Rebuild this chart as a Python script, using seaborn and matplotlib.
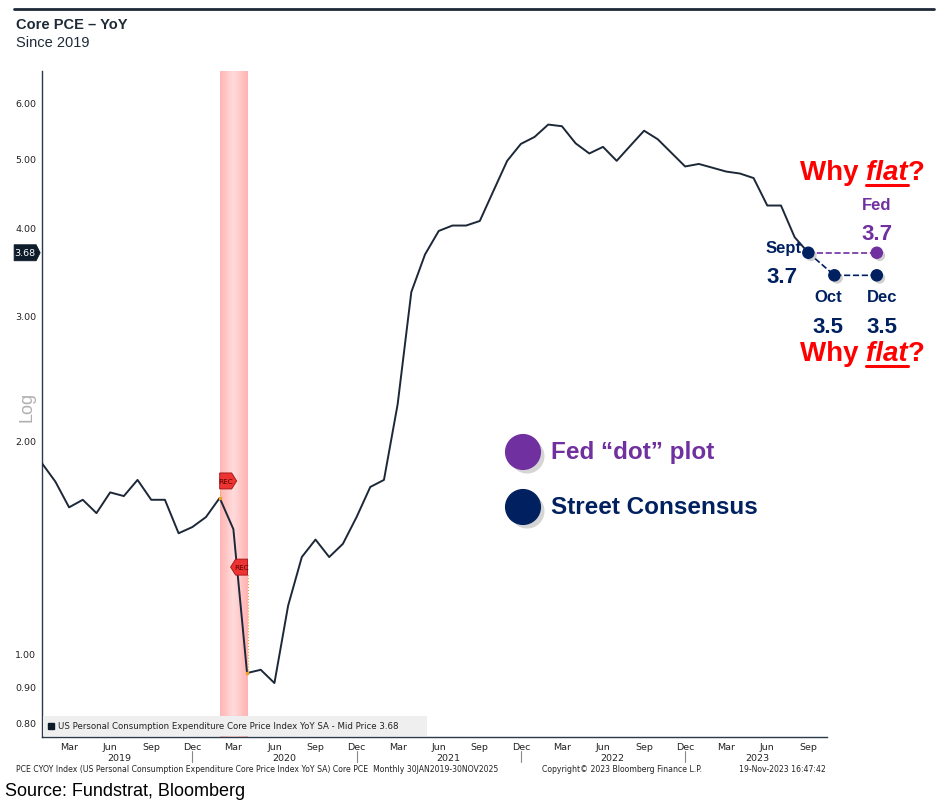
import numpy as np
import pandas as pd
import matplotlib
matplotlib.use('Agg')
import matplotlib.pyplot as plt
import matplotlib.patheffects as pe
import matplotlib.transforms as mtrans
from matplotlib.lines import Line2D
from matplotlib.patches import Rectangle, Polygon
from matplotlib.offsetbox import DrawingArea, AnnotationBbox
from matplotlib.text import Text
import seaborn as sns

# ~ data: Core PCE YoY, monthly Jan 2019 - Sep 2023
months = pd.date_range('2019-01-01', '2023-09-01', freq='MS')
core_pce = [1.86, 1.75, 1.61, 1.65, 1.58, 1.69, 1.67, 1.76, 1.65, 1.65, 1.48, 1.51,
            1.56, 1.66, 1.50, 0.94, 0.95, 0.91, 1.17, 1.37, 1.45, 1.37, 1.43, 1.56,
            1.72, 1.76, 2.25, 3.24, 3.66, 3.95, 4.02, 4.02, 4.08, 4.50, 4.96, 5.24,
            5.36, 5.58, 5.55, 5.25, 5.08, 5.19, 4.96, 5.21, 5.47, 5.32, 5.09, 4.87,
            4.91, 4.85, 4.79, 4.76, 4.69, 4.29, 4.29, 3.87, 3.68]
last_price = 3.68
rec_start, rec_end = 13, 15.04          # recession shading (Feb-Apr 2020), month index
rec_flags = [1.754, 1.326]              # heights of the two REC markers
y_ticks = [0.8, 0.9, 1, 2, 3, 4, 5, 6]
month_names = ['Jan', 'Feb', 'Mar', 'Apr', 'May', 'Jun', 'Jul', 'Aug', 'Sep', 'Oct', 'Nov', 'Dec']
years = [2019, 2020, 2021, 2022, 2023]

# ~ forecast overlay (Sept actual, street consensus Oct/Dec, Fed dot)
street_labels = ['Sept', 'Oct', 'Dec']
street_text = ['3.7', '3.5', '3.5']
street_step = [0, 1.9, 5]               # months after Sept as drawn
street_level = [3.68, 3.42, 3.42]
fed_label, fed_text = 'Fed', '3.7'
fed_level = 3.68

NAVY = '#002060'
PURPLE = '#7030a0'
RED = '#ff0000'
LINE = '#1c2838'
PX = 72 / 100   # points per pixel

df = pd.DataFrame({'idx': np.arange(len(core_pce)), 'yoy': core_pce})

sns.set_style('white')
plt.rcParams['font.family'] = ['DejaVu Sans']

W, H = 949, 804
fig = plt.figure(figsize=(W / 100, H / 100), dpi=100)
ax = fig.add_axes([41.7 / W, 1 - 738.3 / H, (826.7 - 41.7) / W, (738.3 - 72) / H])

# recession band with soft gradient
n = 16
edges = np.linspace(rec_start, rec_end, n + 1)
for i in range(n):
    t = (i + 0.5) / n
    k = 1 - abs(2 * t - 1)
    g = 0.70 + 0.16 * k
    ax.axvspan(edges[i], edges[i + 1], color=(1.0, g, g), lw=0, zorder=0)

sns.lineplot(data=df, x='idx', y='yoy', ax=ax, color=LINE, lw=1.4, zorder=3)

ax.set_yscale('log')
ax.set_ylim(0.763, 6.64)
ax.set_xlim(0, 57.34)
ax.set_yticks(y_ticks)
ax.set_yticklabels(['%.2f' % v for v in y_ticks])
ax.yaxis.set_minor_locator(matplotlib.ticker.NullLocator())
ax.set_xticks(range(0, 58))
ax.set_xticklabels([month_names[i % 12] if i % 3 == 2 else '' for i in range(58)])
ax.tick_params(axis='both', labelsize=6.8, colors='#222222', length=3, width=0.8,
               direction='out', pad=1)
ax.tick_params(axis='x', pad=0.5)
ax.set_xlabel('')
ax.set_ylabel('')
for s in ['top', 'right']:
    ax.spines[s].set_visible(False)
for s in ['left', 'bottom']:
    ax.spines[s].set_color('#2b3a4a')
    ax.spines[s].set_linewidth(1.0)

# year labels and separators
bt = mtrans.blended_transform_factory(ax.transData, ax.transAxes)
for j, yr in enumerate(years):
    first = 12 * j
    last = min(first + 11, 56.2)
    ax.text((first + last) / 2 + 0.2, -0.0305, str(yr), transform=bt, ha='center', va='center',
            fontsize=6.8, color='#222222')
for j in range(4):
    ax.plot([12 * j + 11] * 2, [-0.021, -0.037], transform=bt, color='#888888', lw=0.8,
            clip_on=False)


def tag(xy, coords, w, h, tip, point, label, fc, ec, tc, fs, align):
    w, h, tip = w * PX, h * PX, tip * PX
    da = DrawingArea(w, h, 0, 0)
    if point == 'right':
        verts = [(0, 0), (w - tip, 0), (w, h / 2), (w - tip, h), (0, h)]
        cx = (w - tip) / 2
    else:
        verts = [(tip, 0), (w, 0), (w, h), (tip, h), (0, h / 2)]
        cx = tip + (w - tip) / 2
    da.add_artist(Polygon(verts, closed=True, fc=fc, ec=ec, lw=0.6))
    da.add_artist(Text(cx, h / 2, label, ha='center', va='center', fontsize=fs, color=tc))
    ab = AnnotationBbox(da, xy, xycoords=coords, box_alignment=align, frameon=False, pad=0,
                        annotation_clip=False, zorder=6)
    ax.add_artist(ab)


# REC flags
ax.plot([13, 15], [core_pce[13], core_pce[15]], 's', ms=2, color='#f0a020', zorder=4)
ax.vlines(13, core_pce[13], 1.70, colors='#f0a020', linestyles=':', lw=0.8, zorder=4)
ax.vlines(15.04, core_pce[15], 1.30, colors='#f0a020', linestyles=':', lw=0.8, zorder=4)
tag((rec_start, rec_flags[0]), 'data', 17, 16, 5, 'right', 'REC', '#ee3333', '#a01010',
    '#5a0000', 5.3, (0, 0.5))
tag((rec_end, rec_flags[1]), 'data', 17, 16, 5, 'left', 'REC', '#ee3333', '#a01010',
    '#5a0000', 5.3, (1, 0.5))

# last price tag on y axis
yt = mtrans.blended_transform_factory(ax.transAxes, ax.transData)
tag((-0.002, last_price), yt, 26, 16, 4, 'right', '%.2f' % last_price, '#0d1b2a', '#0d1b2a',
    'white', 6.8, (1, 0.5))

# bottom legend strip
ax.add_patch(Rectangle((0.002, 0.002), 0.489, 0.030, transform=ax.transAxes,
                       fc='#efefef', ec='none', zorder=5))
ax.plot([0.0115], [0.017], 's', ms=5, color='#0d1b2a', transform=ax.transAxes, zorder=6,
        clip_on=False)
ax.text(0.021, 0.017, 'US Personal Consumption Expenditure Core Price Index YoY SA - Mid Price %.2f'
        % last_price, transform=ax.transAxes, fontsize=6.2, va='center', color='#222222', zorder=6)

# forecast overlay
x0 = len(core_pce) - 1
sx = [x0 + s for s in street_step]
shadow = [pe.SimplePatchShadow(offset=(2, -2), shadow_rgbFace='#777777', alpha=0.35), pe.Normal()]
ax.plot([sx[0], sx[2]], [street_level[0], fed_level], '--', color=PURPLE, lw=1.2,
        clip_on=False, zorder=6)
ax.plot(sx, street_level, '--', color=NAVY, lw=1.2, clip_on=False, zorder=6)
ax.plot([sx[2]], [fed_level], 'o', ms=8, color=PURPLE, clip_on=False, zorder=7,
        path_effects=shadow)
ax.plot(sx, street_level, 'o', ms=8, color=NAVY, clip_on=False, zorder=7, path_effects=shadow)

bold = dict(family=['Liberation Sans', 'DejaVu Sans'], weight='bold')
ax.annotate(street_labels[0], (sx[0], street_level[0]), xytext=(-18, 4), textcoords='offset points',
            ha='center', va='center', fontsize=12, color=NAVY, annotation_clip=False, **bold)
ax.annotate(street_text[0], (sx[0], street_level[0]), xytext=(-19, -17), textcoords='offset points',
            ha='center', va='center', fontsize=16, color=NAVY, annotation_clip=False, **bold)
for i, dx in [(1, -4.3), (2, 3.6)]:
    ax.annotate(street_labels[i], (sx[i], street_level[i]), xytext=(dx, -15.5),
                textcoords='offset points', ha='center', va='center', fontsize=12, color=NAVY,
                annotation_clip=False, **bold)
    ax.annotate(street_text[i], (sx[i], street_level[i]), xytext=(dx, -36.5),
                textcoords='offset points', ha='center', va='center', fontsize=16, color=NAVY,
                annotation_clip=False, **bold)
ax.annotate(fed_label, (sx[2], fed_level), xytext=(0, 34.5), textcoords='offset points',
            ha='center', va='center', fontsize=12, color=PURPLE, annotation_clip=False, **bold)
ax.annotate(fed_text, (sx[2], fed_level), xytext=(0, 14), textcoords='offset points',
            ha='center', va='center', fontsize=16, color=PURPLE, annotation_clip=False, **bold)

# legend circles in the plot
for yy, col, lab in [(453, PURPLE, 'Fed \u201cdot\u201d plot'), (508, NAVY, 'Street Consensus')]:
    ay = (738.3 - yy) / (738.3 - 72)
    ax.plot([(523 - 41.7) / 785], [ay], 'o', ms=25, color=col, transform=ax.transAxes,
            path_effects=[pe.SimplePatchShadow(offset=(3, -3), shadow_rgbFace='#888888', alpha=0.35),
                          pe.Normal()], zorder=6)
    ax.text((551 - 41.7) / 785, ay, lab, transform=ax.transAxes, ha='left', va='center',
            fontsize=17.5, color=col, zorder=6, **bold)

# "Why flat?" callouts
renderer = fig.canvas.get_renderer()
for base in [180, 361]:
    fy = 1 - base / H
    t1 = fig.text(800 / W, fy, 'Why ', fontsize=20, color=RED, va='baseline', **bold)
    bb1 = t1.get_window_extent(renderer)
    t2 = fig.text(bb1.x1 / W, fy, 'flat', fontsize=20, color=RED, va='baseline', style='italic',
                  **bold)
    bb2 = t2.get_window_extent(renderer)
    fig.text(bb2.x1 / W, fy, '?', fontsize=20, color=RED, va='baseline', **bold)
    uy = fy - 6 / H
    fig.add_artist(Line2D([bb2.x0 / W, bb2.x1 / W], [uy, uy], color=RED, lw=2.2))

# y axis "Log" label
fig.text(27 / W, 1 - 407 / H, 'Log', rotation=90, ha='center', va='center', fontsize=13,
         color='#b0b0b0', family=['Liberation Sans', 'DejaVu Sans'])

# header
fig.add_artist(Line2D([14 / W, 934 / W], [1 - 10 / H, 1 - 10 / H], color='#1e2a38', lw=2))
fig.text(16 / W, 1 - 25 / H, 'Core PCE \u2013 YoY', fontsize=10.5, va='center', color='#1e2a38', **bold)
fig.text(16 / W, 1 - 43 / H, 'Since 2019', fontsize=10.5, va='center', color='#1e2a38',
         family=['Liberation Sans', 'DejaVu Sans'])

# footer
fig.text(16 / W, 1 - 770 / H, 'PCE CYOY Index (US Personal Consumption Expenditure Core Price Index '
         'YoY SA) Core PCE  Monthly 30JAN2019-30NOV2025', fontsize=5.6, va='center', color='#222222')
fig.text(542 / W, 1 - 770 / H, 'Copyright\u00a9 2023 Bloomberg Finance L.P.', fontsize=5.6,
         va='center', color='#222222')
fig.text(826 / W, 1 - 770 / H, '19-Nov-2023 16:47:42', fontsize=5.6, va='center', ha='right',
         color='#222222')
fig.text(5 / W, 1 - 792 / H, 'Source: Fundstrat, Bloomberg', fontsize=13, va='center',
         color='black', family=['Liberation Sans', 'DejaVu Sans'])

fig.savefig('out.png', dpi=100)
